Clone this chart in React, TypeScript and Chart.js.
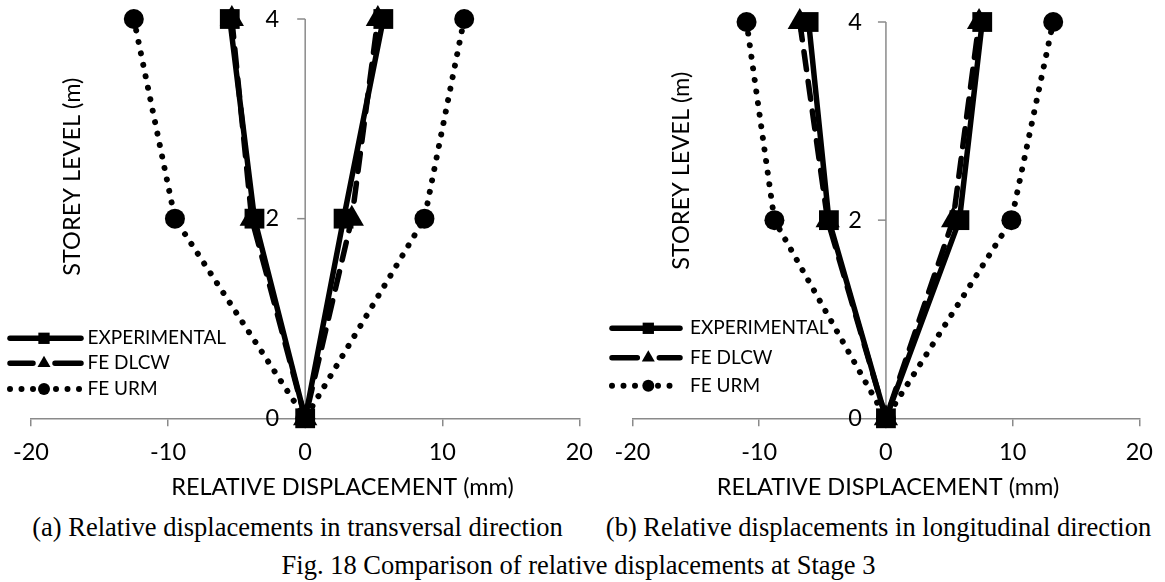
import { useEffect, useRef } from "react";
import { Chart, registerables } from "chart.js";
import { drawPoint } from "chart.js/helpers";

Chart.register(...registerables);

// Storey level of each point along a profile: top-left branch, ground, top-right branch
const storeyLevels = [4, 2, 0, 2, 4];
const yTickValues = [0, 2, 4];
const xMin = -20;
const xMax = 20;
const xStep = 10;

const seriesNames = ["EXPERIMENTAL", "FE DLCW", "FE URM"];

// (a) transversal direction, relative displacement in mm
const transversalExperimental = [-5.5, -3.7, 0, 2.8, 5.7];
const transversalDlcw = [-5.35, -3.9, 0, 3.4, 5.3];
const transversalUrm = [-12.5, -9.5, 0, 8.7, 11.6];

// (b) longitudinal direction, relative displacement in mm
const longitudinalExperimental = [-6.1, -4.5, 0, 5.8, 7.6];
const longitudinalDlcw = [-6.8, -4.6, 0, 5.3, 7.35];
const longitudinalUrm = [-11.0, -8.8, 0, 9.9, 13.2];

const xAxisTitle = "RELATIVE DISPLACEMENT (mm)";
const yAxisTitle = "STOREY LEVEL (m)";
const captionA = "(a) Relative displacements in transversal direction";
const captionB = "(b) Relative displacements in longitudinal direction";
const figureCaption = "Fig. 18 Comparison of relative displacements at Stage 3";

const chartFont = "Lato, 'Open Sans', sans-serif";
const axisFontSize = 23.5;
const legendFontSize = 19;
const axisGray = "#8a8a8a";
const ink = "#000000";

type SeriesStyle = {
  width: number;
  dash: number[];
  pointStyle: "rect" | "triangle" | "circle";
  radius: number;
  legendRadius: number;
};

const seriesStyles: SeriesStyle[] = [
  { width: 5.5, dash: [], pointStyle: "rect", radius: 14, legendRadius: 8 },
  { width: 5.5, dash: [18, 12], pointStyle: "triangle", radius: 14, legendRadius: 7.5 },
  { width: 6, dash: [0.001, 11.7], pointStyle: "circle", radius: 10, legendRadius: 6 },
];

type PanelConfig = {
  left: number;
  width: number;
  height: number;
  padding: { left: number; right: number; top: number; bottom: number };
  xScaleHeight: number;
  series: number[][];
  legend: { lineStart: number; lineEnd: number; marker: number; text: number; rows: number[] };
  yTitle: { x: number; y: number };
  xTitle: { x: number; y: number };
  yLabelGap: number;
};

const panels: PanelConfig[] = [
  {
    left: 0,
    width: 605,
    height: 510,
    padding: { left: 31, right: 17.5, top: 19, bottom: 8.6 },
    xScaleHeight: 83.1,
    series: [transversalExperimental, transversalDlcw, transversalUrm],
    legend: { lineStart: 10, lineEnd: 81, marker: 44, text: 87.5, rows: [338.3, 363.3, 389] },
    yTitle: { x: 72.3, y: 176.7 },
    xTitle: { x: 342.5, y: 487.3 },
    yLabelGap: 26,
  },
  {
    left: 600,
    width: 565,
    height: 510,
    padding: { left: 32.5, right: 22.7, top: 22, bottom: 8.6 },
    xScaleHeight: 83.1,
    series: [longitudinalExperimental, longitudinalDlcw, longitudinalUrm],
    legend: { lineStart: 12, lineEnd: 80, marker: 48.3, text: 90, rows: [328.3, 357.7, 385.7] },
    yTitle: { x: 81, y: 170.8 },
    xTitle: { x: 288, y: 487.3 },
    yLabelGap: 24,
  },
];

function buildDatasets(series: number[][]) {
  return series.map((xs, i) => {
    const st = seriesStyles[i];
    return {
      label: seriesNames[i],
      data: xs.map((x, k) => ({ x, y: storeyLevels[k] })),
      showLine: true,
      borderColor: ink,
      backgroundColor: ink,
      borderWidth: st.width,
      borderDash: st.dash,
      borderCapStyle: "round" as const,
      borderJoinStyle: "round" as const,
      pointStyle: st.pointStyle,
      pointRadius: st.radius,
      pointHoverRadius: st.radius,
      pointBorderWidth: 0,
      pointBackgroundColor: ink,
      pointBorderColor: ink,
      tension: 0,
      clip: false as const,
    };
  });
}

function decorations(cfg: PanelConfig) {
  return {
    id: "panelDecorations",
    beforeDatasetsDraw(chart: any) {
      const { ctx, chartArea, scales } = chart;
      const x0 = scales.x.getPixelForValue(0);
      ctx.save();
      // vertical axis crossing at zero displacement
      ctx.strokeStyle = axisGray;
      ctx.lineWidth = 1.5;
      ctx.beginPath();
      ctx.moveTo(x0, chartArea.top);
      ctx.lineTo(x0, chartArea.bottom);
      ctx.stroke();
      ctx.font = `${axisFontSize}px ${chartFont}`;
      ctx.fillStyle = ink;
      ctx.textAlign = "right";
      ctx.textBaseline = "middle";
      for (const v of yTickValues) {
        const y = scales.y.getPixelForValue(v);
        ctx.beginPath();
        ctx.moveTo(x0 - 8, y);
        ctx.lineTo(x0, y);
        ctx.stroke();
        ctx.fillText(String(v), x0 - cfg.yLabelGap, y);
      }
      // horizontal axis title
      ctx.textAlign = "center";
      ctx.fillText(xAxisTitle, cfg.xTitle.x, cfg.xTitle.y);
      // vertical axis title
      ctx.translate(cfg.yTitle.x, cfg.yTitle.y);
      ctx.rotate(-Math.PI / 2);
      ctx.fillText(yAxisTitle, 0, 0);
      ctx.restore();
    },
    afterDraw(chart: any) {
      const { ctx } = chart;
      const lg = cfg.legend;
      ctx.save();
      seriesNames.forEach((name, i) => {
        const st = seriesStyles[i];
        const y = lg.rows[i];
        ctx.strokeStyle = ink;
        ctx.fillStyle = ink;
        ctx.lineWidth = st.width;
        ctx.lineCap = "round";
        if (i === 1) {
          ctx.setLineDash([]);
          ctx.beginPath();
          ctx.moveTo(lg.lineStart, y);
          ctx.lineTo(lg.marker - 11, y);
          ctx.moveTo(lg.marker + 11, y);
          ctx.lineTo(lg.lineEnd, y);
          ctx.stroke();
        } else {
          ctx.setLineDash(i === 2 ? [0.001, 11.5] : st.dash);
          ctx.beginPath();
          ctx.moveTo(lg.lineStart, y);
          ctx.lineTo(lg.lineEnd, y);
          ctx.stroke();
        }
        ctx.setLineDash([]);
        drawPoint(ctx, { pointStyle: st.pointStyle, radius: st.legendRadius, borderWidth: 0, rotation: 0 } as any, lg.marker, y);
        ctx.font = `${legendFontSize}px ${chartFont}`;
        ctx.textAlign = "left";
        ctx.textBaseline = "middle";
        ctx.fillText(name, lg.text, y);
      });
      ctx.restore();
    },
  };
}

function Panel({ cfg }: { cfg: PanelConfig }) {
  const ref = useRef<HTMLCanvasElement | null>(null);
  useEffect(() => {
    if (!ref.current) return;
    const chart = new Chart(ref.current, {
      type: "scatter",
      data: { datasets: buildDatasets(cfg.series) as any },
      options: {
        responsive: false,
        animation: false,
        events: [],
        layout: { padding: cfg.padding },
        plugins: { legend: { display: false }, tooltip: { enabled: false } },
        scales: {
          x: {
            type: "linear",
            position: "bottom",
            min: xMin,
            max: xMax,
            afterFit: (scale: any) => {
              scale.height = cfg.xScaleHeight;
            },
            ticks: {
              stepSize: xStep,
              color: ink,
              padding: 12,
              font: { family: chartFont, size: axisFontSize },
            },
            grid: {
              drawOnChartArea: false,
              drawTicks: true,
              tickLength: 8,
              color: axisGray,
              lineWidth: 1.5,
            },
            border: { display: true, color: axisGray, width: 1.5 },
            title: { display: false },
          },
          y: { type: "linear", min: 0, max: 4, display: false },
        },
      },
      plugins: [decorations(cfg)],
    });
    return () => chart.destroy();
  }, [cfg]);
  return (
    <canvas
      ref={ref}
      width={cfg.width}
      height={cfg.height}
      style={{ position: "absolute", left: cfg.left, top: 0, width: cfg.width, height: cfg.height }}
    />
  );
}

const captionStyle = {
  position: "absolute" as const,
  width: 700,
  textAlign: "center" as const,
  whiteSpace: "nowrap" as const,
  fontFamily: "'Liberation Serif', 'Times New Roman', serif",
  fontSize: 26.5,
  lineHeight: "30px",
  color: ink,
};

export default function App() {
  useEffect(() => {
    document.body.style.margin = "0";
  }, []);
  return (
    <div style={{ position: "relative", width: 1165, height: 582, background: "#fff", overflow: "hidden" }}>
      {panels.map((p, i) => (
        <Panel key={i} cfg={p} />
      ))}
      <div style={{ ...captionStyle, left: 297.5 - 350, top: 512 }}>{captionA}</div>
      <div style={{ ...captionStyle, left: 878.5 - 350, top: 512 }}>{captionB}</div>
      <div style={{ ...captionStyle, left: 578.5 - 350, top: 549.5 }}>{figureCaption}</div>
    </div>
  );
}
